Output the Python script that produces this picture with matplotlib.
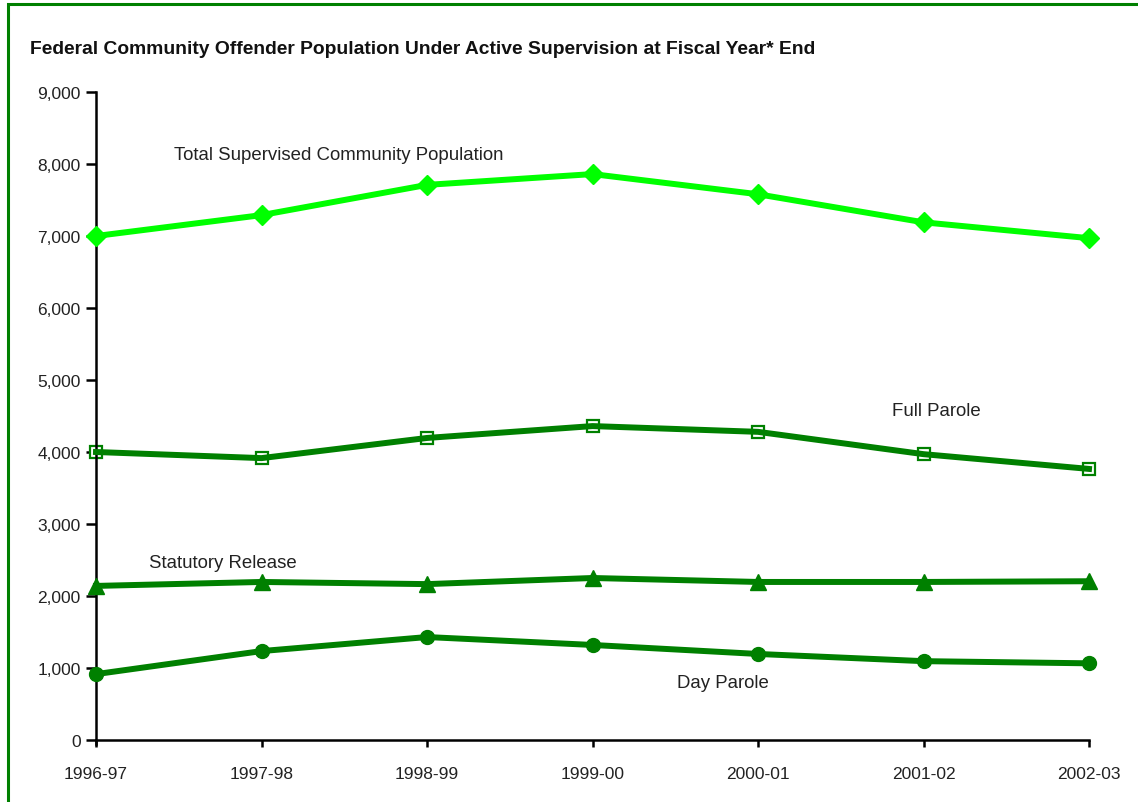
import matplotlib
matplotlib.use("Agg")
import matplotlib.pyplot as plt
from matplotlib.patches import Rectangle
from matplotlib.ticker import FuncFormatter

plt.rcParams['font.family'] = ['Liberation Sans', 'DejaVu Sans']

years = ["1996-97", "1997-98", "1998-99", "1999-00", "2000-01", "2001-02", "2002-03"]
total_supervised = [7000, 7290, 7710, 7860, 7580, 7190, 6970]
full_parole = [4000, 3915, 4195, 4360, 4280, 3970, 3765]
statutory_release = [2140, 2195, 2165, 2250, 2195, 2195, 2205]
day_parole = [915, 1235, 1430, 1320, 1195, 1095, 1065]

W, H = 1138, 803
fig = plt.figure(figsize=(W / 100, H / 100), dpi=100)

# green frame (left and top edges visible)
fig.patches.append(Rectangle((8 / W, -0.05), 1.2, 1 - 5 / H + 0.05,
                             transform=fig.transFigure, fill=False,
                             edgecolor="#008000", linewidth=2.2, zorder=0))

ax = fig.add_axes([96 / W, 1 - 741 / H, (1089 - 96) / W, (741 - 93) / H])
x = list(range(len(years)))

dark = "#008000"
lime = "#00FF00"
lw = 4.3

ax.plot(x, total_supervised, color=lime, linewidth=lw, marker="D",
        markersize=10.5, markeredgecolor=lime, markerfacecolor=lime,
        clip_on=False, zorder=3)

# full parole: hollow squares drawn beneath the line
ax.plot(x, full_parole, linestyle="none", marker="s", markersize=8,
        markerfacecolor="white", markeredgecolor=dark, markeredgewidth=1.6,
        clip_on=False, zorder=2)
ax.plot(x, full_parole, color=dark, linewidth=lw, clip_on=False, zorder=3)

ax.plot(x, statutory_release, color=dark, linewidth=lw, marker="^",
        markersize=11, clip_on=False, zorder=3)
ax.plot(x, day_parole, color=dark, linewidth=lw, marker="o",
        markersize=10, clip_on=False, zorder=3)

ax.set_xlim(0, len(years) - 1)
ax.set_ylim(0, 9000)
ax.set_xticks(x)
ax.set_xticklabels(years)
ax.set_yticks(range(0, 9001, 1000))
ax.yaxis.set_major_formatter(FuncFormatter(lambda v, p: f"{int(v):,}"))

for s in ["top", "right"]:
    ax.spines[s].set_visible(False)
for s in ["left", "bottom"]:
    ax.spines[s].set_linewidth(1.8)
    ax.spines[s].set_color("black")
ax.spines["left"].set_bounds(-60, 9000)

ax.tick_params(axis="y", direction="out", length=7, width=1.8, pad=4,
               labelsize=12.5, colors="black", labelcolor="#222222")
ax.tick_params(axis="x", direction="out", length=5, width=1.8, pad=14,
               labelsize=12.5, colors="black", labelcolor="#222222")

lbl = dict(fontsize=13.4, color="#222222", va="center", ha="left")
ax.text(0.47, 8130, "Total Supervised Community Population", **lbl)
ax.text(4.81, 4580, "Full Parole", **lbl)
ax.text(0.32, 2460, "Statutory Release", **lbl)
ax.text(3.51, 795, "Day Parole", **lbl)

fig.text(30 / W, 1 - 50 / H, "Federal Community Offender Population Under Active "
         "Supervision at Fiscal Year* End", fontsize=13.9, fontweight="bold",
         color="#111111", ha="left", va="center")

fig.savefig("out.png", dpi=100)
